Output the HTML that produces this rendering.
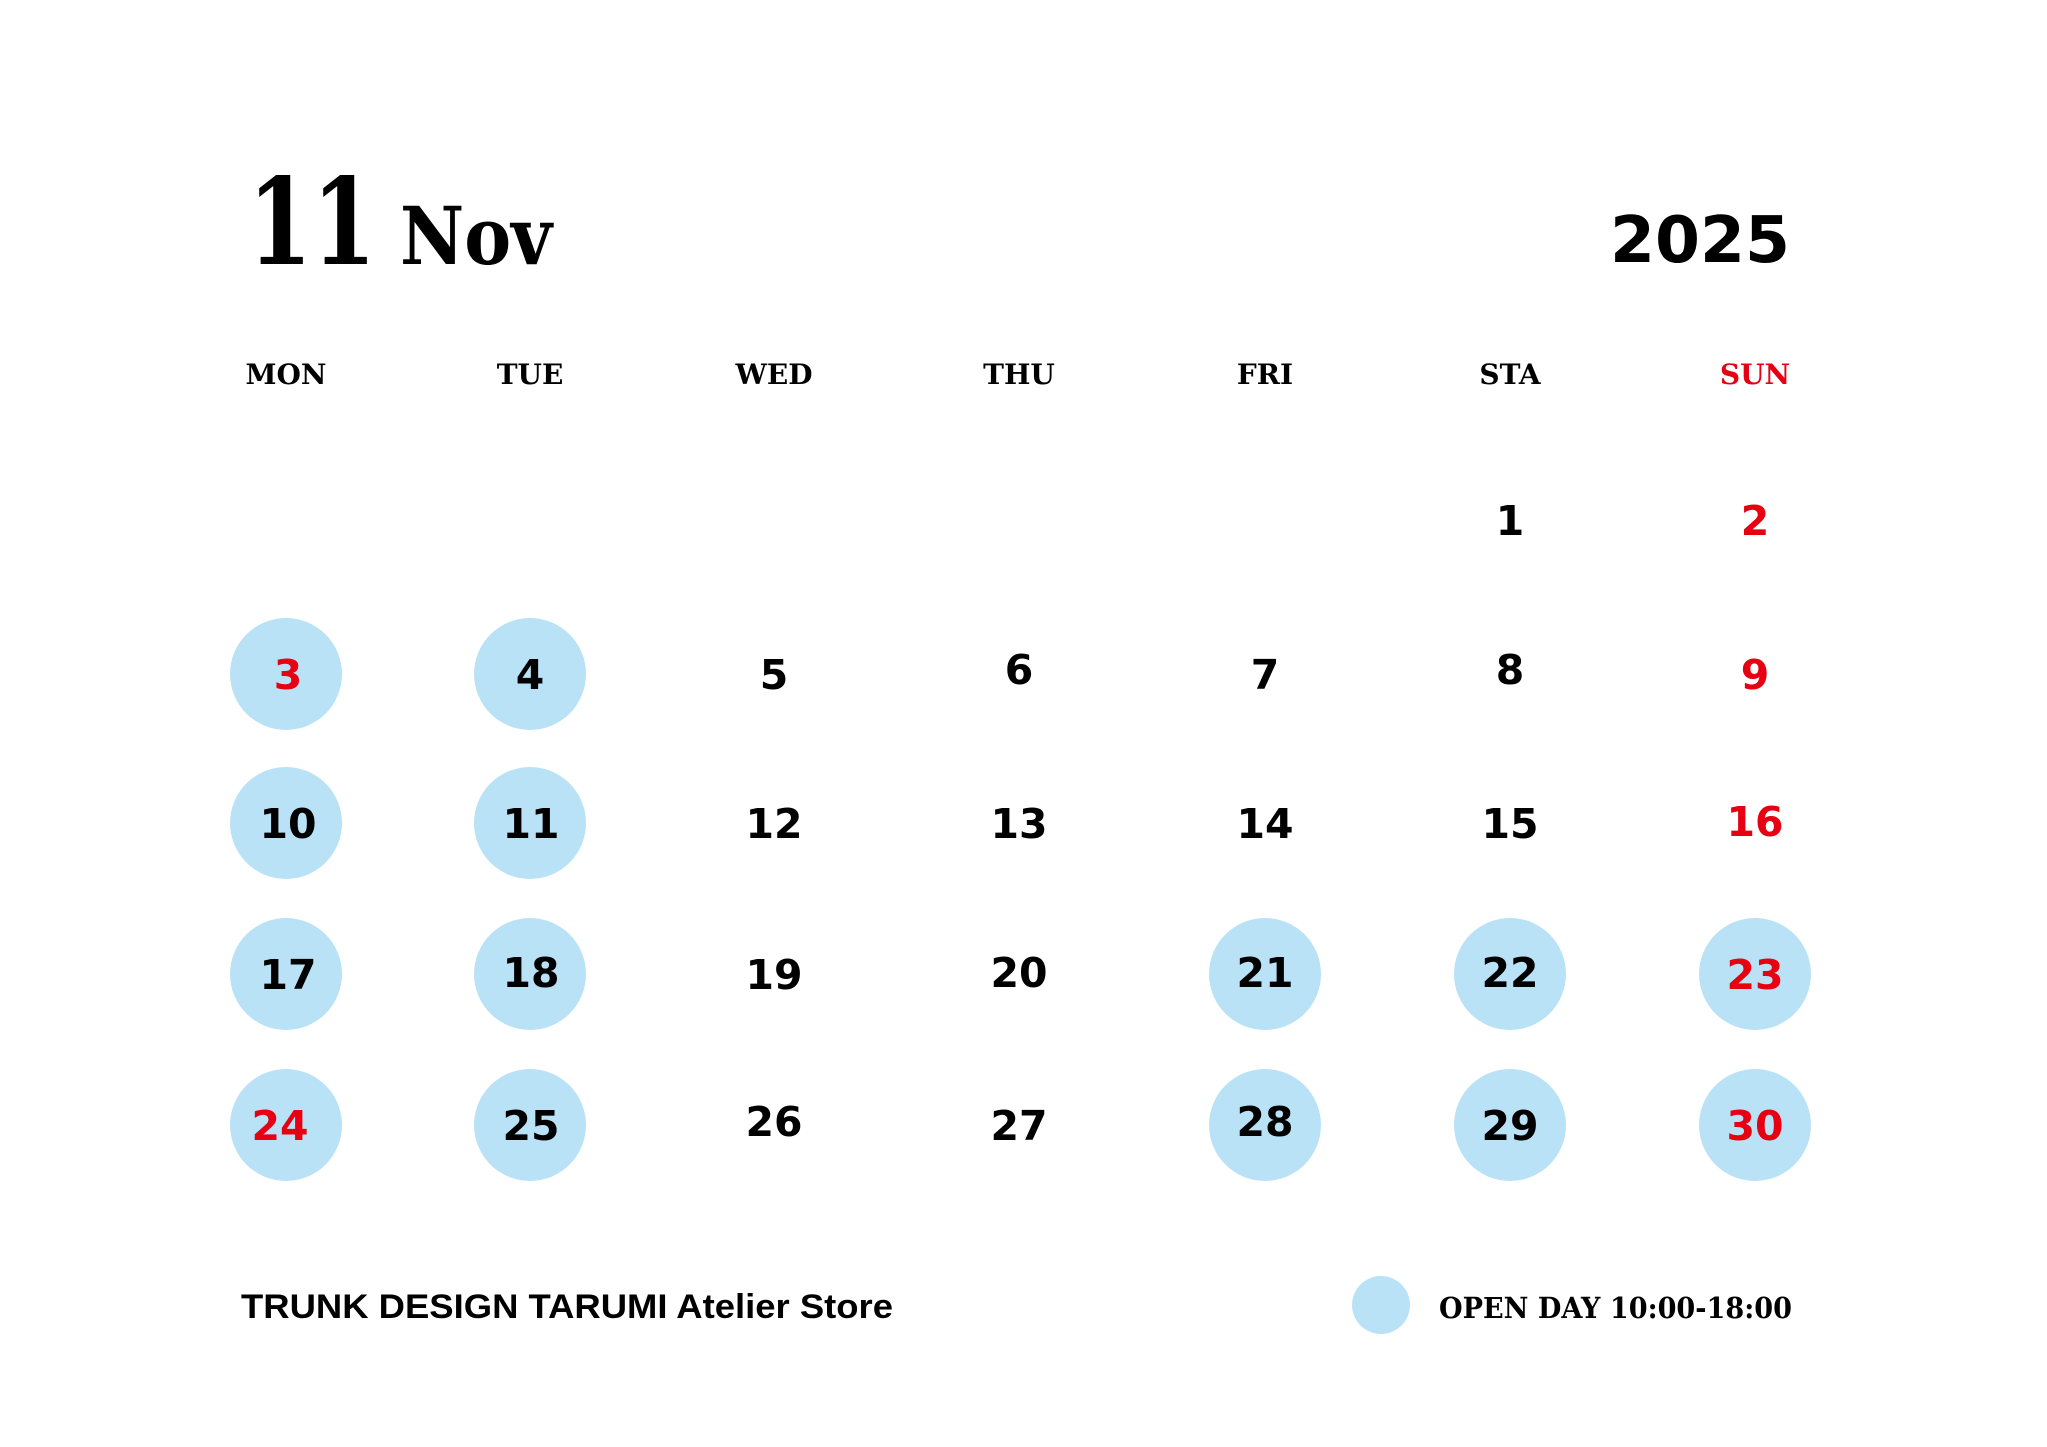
<!DOCTYPE html>
<html><head><style>html,body{margin:0;padding:0;background:#fff}svg{display:block}</style></head>
<body>
<svg width="2047" height="1447" viewBox="0 0 2047 1447" xmlns="http://www.w3.org/2000/svg">
<rect width="2047" height="1447" fill="#fff"/>
<g font-family="'DejaVu Serif','Liberation Serif',serif" font-weight="bold" fill="#000">
<text x="248" y="264" font-size="120" textLength="128" lengthAdjust="spacingAndGlyphs">11</text>
<text x="400" y="264" font-size="80" textLength="152" lengthAdjust="spacingAndGlyphs">Nov</text>
</g>
<text x="1610" y="262" font-family="'DejaVu Sans','Liberation Sans',sans-serif" font-weight="bold" font-size="64" textLength="180" lengthAdjust="spacingAndGlyphs">2025</text>
<g font-family="'DejaVu Serif','Liberation Serif',serif" font-weight="bold" font-size="28" text-anchor="middle">
<text x="286" y="384">MON</text><text x="530" y="384">TUE</text><text x="774" y="384">WED</text><text x="1019" y="384">THU</text><text x="1265" y="384">FRI</text><text x="1510" y="384">STA</text><text x="1755" y="384" fill="#e60012">SUN</text>
</g>
<g fill="#b9e2f7">
<circle cx="286" cy="674" r="56"/><circle cx="530" cy="674" r="56"/>
<circle cx="286" cy="823" r="56"/><circle cx="530" cy="823" r="56"/>
<circle cx="286" cy="974" r="56"/><circle cx="530" cy="974" r="56"/><circle cx="1265" cy="974" r="56"/><circle cx="1510" cy="974" r="56"/><circle cx="1755" cy="974" r="56"/>
<circle cx="286" cy="1125" r="56"/><circle cx="530" cy="1125" r="56"/><circle cx="1265" cy="1125" r="56"/><circle cx="1510" cy="1125" r="56"/><circle cx="1755" cy="1125" r="56"/>
<circle cx="1381" cy="1305" r="29"/>
</g>
<g font-family="'DejaVu Sans','Liberation Sans',sans-serif" font-weight="600" font-size="41" text-anchor="middle" fill="#000">
<text x="1510" y="535">1</text><text x="1755" y="535" fill="#e60012">2</text>
<text x="288" y="689" fill="#e60012">3</text><text x="530" y="689">4</text><text x="774" y="689">5</text><text x="1019" y="684">6</text><text x="1265" y="689">7</text><text x="1510" y="684">8</text><text x="1755" y="689" fill="#e60012">9</text>
<text x="288" y="838">10</text><text x="531" y="838">11</text><text x="774" y="838">12</text><text x="1019" y="838">13</text><text x="1265" y="838">14</text><text x="1510" y="838">15</text><text x="1755" y="836" fill="#e60012">16</text>
<text x="288" y="989">17</text><text x="531" y="987">18</text><text x="774" y="989">19</text><text x="1019" y="987">20</text><text x="1265" y="987">21</text><text x="1510" y="987">22</text><text x="1755" y="989" fill="#e60012">23</text>
<text x="280" y="1140" fill="#e60012">24</text><text x="531" y="1140">25</text><text x="774" y="1136">26</text><text x="1019" y="1140">27</text><text x="1265" y="1136">28</text><text x="1510" y="1140">29</text><text x="1755" y="1140" fill="#e60012">30</text>
</g>
<text x="241" y="1318" font-family="'Liberation Sans',sans-serif" font-weight="bold" font-size="34" textLength="652" lengthAdjust="spacingAndGlyphs">TRUNK DESIGN TARUMI Atelier Store</text>
<text x="1439" y="1318" font-family="'DejaVu Serif','Liberation Serif',serif" font-weight="bold" font-size="29" textLength="353" lengthAdjust="spacingAndGlyphs">OPEN DAY 10:00-18:00</text>
</svg>
</body></html>
